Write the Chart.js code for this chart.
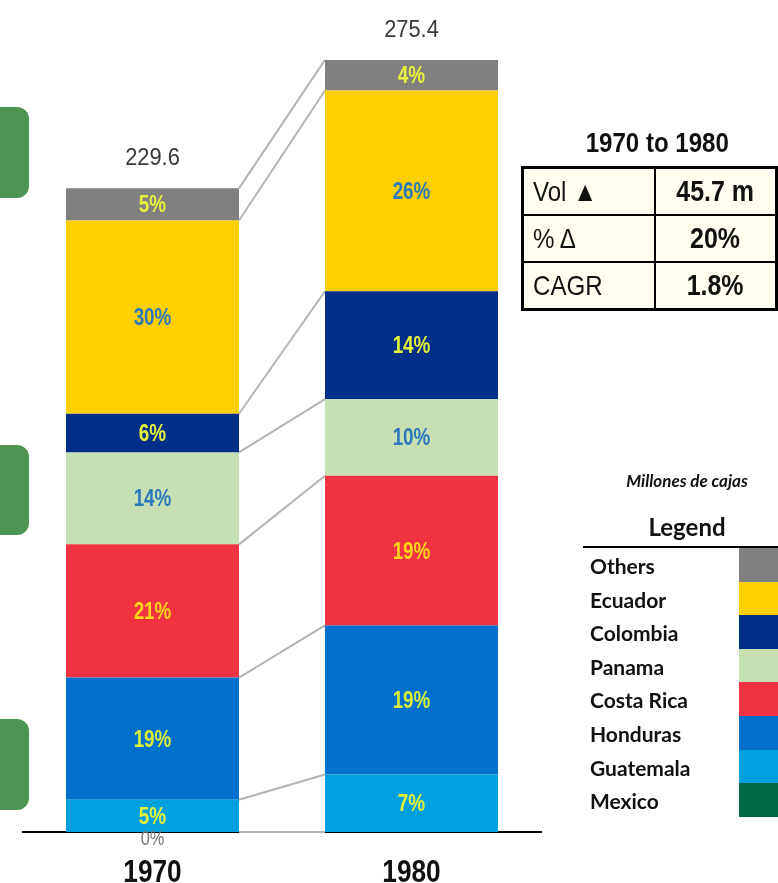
<!DOCTYPE html>
<html>
<head>
<meta charset="utf-8">
<script src="https://cdn.jsdelivr.net/npm/chart.js@4.4.1/dist/chart.umd.min.js"></script>
<style>
  body { margin: 0; background: #fff; }
  .wrap { position: relative; width: 778px; height: 883px; overflow: hidden; }
  canvas { position: absolute; left: 0; top: 0; }
  .green { position: absolute; left: -20px; width: 49px; background: #4d9553; border-radius: 12px; }
  .arial { font-family: "Liberation Sans", Arial, sans-serif; }
  .sq { display: inline-block; transform: scaleX(0.86); white-space: nowrap; }
  .sql { display: inline-block; transform: scaleX(0.86); transform-origin: left center; white-space: nowrap; }
  #ttl { position: absolute; left: 522px; width: 270px; top: 127px; text-align: center; font-size: 28px; font-weight: bold; color: #111; }
  #stats { position: absolute; left: 521px; top: 166px; border-collapse: collapse; border: 3px solid #000; background: #fffef0; }
  #stats td { border: 2px solid #000; height: 45px; font-size: 28px; color: #111; padding: 0; }
  #stats td.k { width: 124px; padding-left: 9px; }
  #stats td.v { width: 122px; text-align: center; font-weight: bold; font-size: 29px; }
  #unit { position: absolute; left: 577px; width: 220px; top: 470px; text-align: center; font: italic bold 17px Lato, sans-serif; color: #111; }
  #legend { position: absolute; left: 583px; top: 512px; width: 200px; font-family: Lato, sans-serif; }
  #legend .head { width: 208px; text-align: center; font-weight: bold; font-size: 24px; height: 34px; border-bottom: 2px solid #000; color: #111; }
  #legend .row { position: relative; height: 33.6px; font-weight: bold; font-size: 21px; line-height: 36px; padding-left: 7px; color: #111; }
  #legend .sw { position: absolute; left: 156px; top: 0; width: 50px; height: 33.6px; }
</style>
</head>
<body>
<div class="wrap">
  <canvas id="c" width="778" height="883"></canvas>
  <div class="green" style="top:107px;height:91px"></div>
  <div class="green" style="top:445px;height:90px"></div>
  <div class="green" style="top:719px;height:91px"></div>
  <div id="ttl" class="arial"><span class="sq">1970 to 1980</span></div>
  <table id="stats" class="arial">
    <tr><td class="k"><span class="sql">Vol &#9650;</span></td><td class="v"><span class="sq">45.7 m</span></td></tr>
    <tr><td class="k"><span class="sql">% &#916;</span></td><td class="v"><span class="sq">20%</span></td></tr>
    <tr><td class="k"><span class="sql">CAGR</span></td><td class="v"><span class="sq">1.8%</span></td></tr>
  </table>
  <div id="unit">Millones de cajas</div>
  <div id="legend"><div class="head">Legend</div></div>
</div>
<script>
// bottom-up stacking order
const years = ["1970", "1980"];
const countries = ["Mexico", "Guatemala", "Honduras", "Costa Rica", "Panama", "Colombia", "Ecuador", "Others"];
const mexico = [0, 0];
const guatemala = [11.5, 20.5];
const honduras = [43.6, 53.2];
const costaRica = [47.5, 53.4];
const panama = [32.8, 27.3];
const colombia = [13.8, 38.5];
const ecuador = [68.9, 71.6];
const others = [11.5, 10.9];
const totals = [229.6, 275.4];

const colors = ["#006747", "#00a0df", "#0070cc", "#ef3340", "#c6e0b4", "#002f87", "#ffd000", "#808080"];
const labelColors = ["#777777", "#e4f33a", "#d8f03c", "#ffd51e", "#2c78bd", "#e4f33a", "#2c78bd", "#e8f23a"];

const series = [mexico, guatemala, honduras, costaRica, panama, colombia, ecuador, others];
const arial = "'Liberation Sans', Arial, sans-serif";

// legend (top-down = reverse of stacking)
const legend = document.getElementById("legend");
for (let i = countries.length - 1; i >= 0; i--) {
  const row = document.createElement("div");
  row.className = "row";
  row.textContent = countries[i];
  const sw = document.createElement("div");
  sw.className = "sw";
  sw.style.background = colors[i];
  row.appendChild(sw);
  legend.appendChild(row);
}

// squeezed text, like Arial Narrow
function narrowText(ctx, text, x, y, sx) {
  ctx.save();
  ctx.translate(x, y);
  ctx.scale(sx, 1);
  ctx.fillText(text, 0, 0);
  ctx.restore();
}

const connectors = {
  id: "connectors",
  beforeDatasetsDraw(chart) {
    const ctx = chart.ctx;
    ctx.save();
    ctx.strokeStyle = "#b4b4b4";
    ctx.lineWidth = 2;
    chart.data.datasets.forEach((ds, d) => {
      const bars = chart.getDatasetMeta(d).data;
      const a = bars[0].getProps(["x", "y", "base", "width"], true);
      const b = bars[1].getProps(["x", "y", "base", "width"], true);
      ctx.beginPath();
      ctx.moveTo(a.x + a.width / 2, a.y);
      ctx.lineTo(b.x - b.width / 2, b.y);
      if (d === 0) {
        ctx.moveTo(a.x + a.width / 2, a.base);
        ctx.lineTo(b.x - b.width / 2, b.base);
      }
      ctx.stroke();
    });
    ctx.restore();
  }
};

const barLabels = {
  id: "barLabels",
  afterDraw(chart) {
    const ctx = chart.ctx;
    ctx.save();
    ctx.textAlign = "center";
    ctx.textBaseline = "alphabetic";
    chart.data.datasets.forEach((ds, d) => {
      chart.getDatasetMeta(d).data.forEach((bar, i) => {
        const p = bar.getProps(["x", "y", "base"], true);
        const v = ds.data[i];
        const pct = Math.round(v / totals[i] * 100) + "%";
        if (v === 0) {
          if (i === 0) {
            ctx.fillStyle = labelColors[d];
            ctx.font = "20px " + arial;
            narrowText(ctx, pct, p.x, p.base + 13, 0.82);
          }
          return;
        }
        ctx.font = "bold 23px " + arial;
        ctx.fillStyle = labelColors[d];
        narrowText(ctx, pct, p.x, (p.y + p.base) / 2 + 8, 0.82);
      });
    });
    // totals above the bars
    const top = chart.getDatasetMeta(chart.data.datasets.length - 1).data;
    ctx.font = "23px " + arial;
    ctx.fillStyle = "#383838";
    top.forEach((bar, i) => {
      const p = bar.getProps(["x", "y"], true);
      narrowText(ctx, totals[i].toFixed(1), p.x, p.y - 23, 0.95);
    });
    // category labels under the axis
    const xs = chart.scales.x;
    ctx.font = "bold 32px " + arial;
    ctx.fillStyle = "#111";
    years.forEach((y, i) => narrowText(ctx, y, xs.getPixelForValue(i), 882, 0.82));
    ctx.restore();
  }
};

new Chart(document.getElementById("c"), {
  type: "bar",
  data: {
    labels: years,
    datasets: countries.map((name, k) => ({
      label: name,
      data: series[k],
      backgroundColor: colors[k],
      borderWidth: 0,
      barPercentage: 1,
      categoryPercentage: 0.668
    }))
  },
  options: {
    responsive: false,
    animation: false,
    layout: { padding: { left: 23, right: 237, top: 19, bottom: 51 } },
    plugins: { legend: { display: false }, tooltip: { enabled: false } },
    scales: {
      x: {
        stacked: true,
        grid: { display: false, drawTicks: false },
        border: { display: true, color: "#000", width: 2 },
        ticks: { display: false }
      },
      y: {
        stacked: true,
        display: false,
        min: 0,
        max: 290
      }
    }
  },
  plugins: [connectors, barLabels]
});
</script>
</body>
</html>
